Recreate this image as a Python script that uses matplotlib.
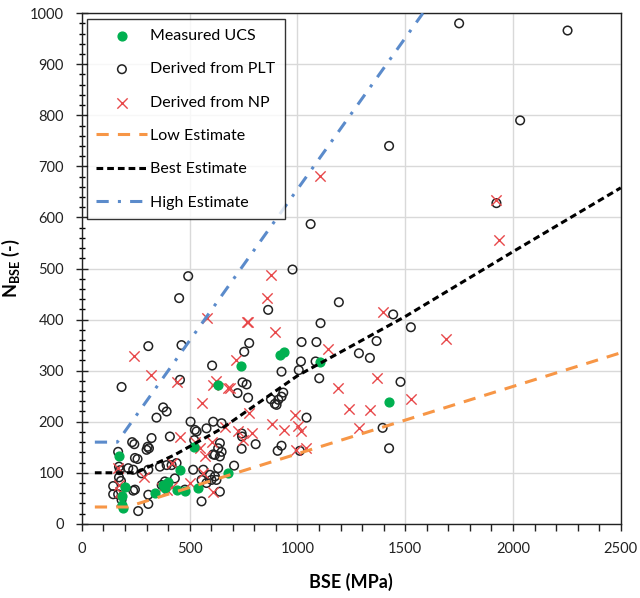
import matplotlib
matplotlib.use('Agg')
import matplotlib.pyplot as plt
from matplotlib.ticker import MultipleLocator

plt.rcParams['font.family'] = ['Lato', 'DejaVu Sans']
plt.rcParams['mathtext.fontset'] = 'custom'
plt.rcParams['mathtext.rm'] = 'Lato'
plt.rcParams['mathtext.bf'] = 'Lato:bold'

# measured UCS (green dots)
ucs_bse = [172, 199, 184, 184, 192, 339, 377, 385, 400, 439, 455, 478, 521, 540,
           629, 679, 738, 918, 938, 1104, 1425]
ucs_n = [132, 73, 55, 37, 31, 60, 76, 70, 81, 67, 106, 65, 151, 70,
         272, 100, 310, 331, 336, 316, 238]

# derived from PLT (open circles)
plt_bse = [1750, 2253, 2033, 1425, 1923, 1061, 493, 977, 451, 864, 1192, 1107, 1444,
           1526, 1367, 1285, 1336, 776, 1019, 1088, 753, 308, 462, 604, 1016, 1084,
           1006, 926, 1101, 455, 184, 745, 764, 1478, 722, 771, 934, 926, 911, 895,
           877, 377, 393, 346, 903, 1042, 504, 609, 648, 1395, 524, 532, 578, 741,
           743, 323, 408, 233, 243, 305, 311, 300, 521, 632, 640, 609, 741, 806,
           908, 926, 1011, 1425, 168, 172, 176, 172, 181, 145, 145, 168, 184, 246,
           258, 215, 238, 277, 308, 246, 308, 261, 308, 362, 393, 385, 370, 416,
           439, 431, 478, 516, 563, 594, 555, 578, 601, 624, 632, 640, 555, 706,
           640, 648, 617, 617, 238]
plt_n = [980, 966, 790, 740, 628, 587, 485, 498, 442, 419, 434, 393, 410,
         385, 358, 334, 325, 354, 356, 356, 337, 348, 350, 310, 318, 318,
         301, 298, 285, 282, 268, 277, 273, 278, 256, 247, 257, 249, 243, 235,
         244, 228, 220, 208, 233, 208, 200, 200, 197, 188, 184, 181, 187, 177,
         171, 168, 171, 160, 156, 151, 148, 145, 164, 148, 132, 136, 147, 156,
         143, 153, 143, 148, 141, 112, 105, 91, 84, 74, 58, 58, 47, 129,
         127, 109, 106, 99, 106, 67, 57, 25, 39, 112, 115, 83, 76, 115,
         119, 89, 67, 106, 106, 96, 86, 80, 86, 86, 109, 63, 44, 114,
         158, 141, 135, 93, 65]

# derived from NP (red crosses)
np_bse = [1104, 875, 857, 581, 764, 771, 1395, 1934, 1920, 895, 1691, 1142, 243, 717,
          320, 620, 609, 679, 686, 1189, 439, 1367, 1526, 555, 1238, 1336, 988, 775,
          663, 880, 938, 1003, 1016, 725, 787, 748, 1285, 991, 1038, 455, 524, 547,
          602, 571, 168, 289, 172, 176, 181, 370, 393, 416, 501, 609, 416, 564]
np_n = [681, 487, 442, 404, 396, 396, 414, 556, 634, 376, 362, 342, 329, 321,
        292, 280, 272, 266, 266, 266, 277, 285, 244, 237, 225, 223, 213, 217,
        190, 195, 184, 192, 181, 181, 177, 164, 188, 145, 149, 171, 161, 148,
        161, 132, 109, 91, 76, 62, 44, 70, 67, 73, 80, 62, 119, 100]

# estimate curves (vertices)
low_bse = [60, 210, 2500]
low_n = [33, 33, 335]
best_bse = [60, 250, 430, 650, 1000, 1500, 2000, 2500]
best_n = [100, 100, 135, 187, 290, 406, 533, 658]
high_bse = [60, 164, 1582]
high_n = [160, 160, 1000]

fig = plt.figure(figsize=(6.4, 5.98), dpi=100)
ax = fig.add_axes([0.128, 0.124, 0.842, 0.854])

ax.scatter(ucs_bse, ucs_n, s=40, color='#00B050', zorder=4, label='Measured UCS')
ax.scatter(plt_bse, plt_n, s=38, facecolors='none', edgecolors='#222222',
           linewidths=1.1, zorder=3, label='Derived from PLT')
ax.scatter(np_bse, np_n, s=55, marker='x', color='#E8484A', linewidths=1.0,
           zorder=3, label='Derived from NP')
ax.plot(low_bse, low_n, color='#F79646', lw=2.2, dashes=(4, 3), label='Low Estimate', zorder=5)
ax.plot(best_bse, best_n, color='black', lw=2.2, dashes=(2.2, 1.3), label='Best Estimate', zorder=5)
ax.plot(high_bse, high_n, color='#5B8BCB', lw=2.2, dashes=(4, 3, 1, 3), label='High Estimate', zorder=5)

ax.set_xlim(0, 2500)
ax.set_ylim(0, 1000)
ax.xaxis.set_major_locator(MultipleLocator(500))
ax.xaxis.set_minor_locator(MultipleLocator(100))
ax.yaxis.set_major_locator(MultipleLocator(100))
ax.yaxis.set_minor_locator(MultipleLocator(20))
ax.grid(True, which='major', color='#D9D9D9', lw=1.0, zorder=0)
ax.set_axisbelow(True)
ax.tick_params(axis='x', which='both', direction='out', length=5, width=1,
               labelsize=10.5, colors='#222222', pad=8)
ax.tick_params(axis='y', which='major', direction='inout', length=8, width=1,
               labelsize=10.5, colors='#222222', pad=9)
ax.tick_params(axis='y', which='minor', direction='inout', length=5, width=1)
for sp in ax.spines.values():
    sp.set_color('#222222')
    sp.set_linewidth(1.0)

ax.set_xlabel('BSE (MPa)', fontsize=13, fontweight='bold', labelpad=12)
ax.set_ylabel(r'$\mathbf{N_{BSE}}$ (-)', fontsize=13, fontweight='bold', labelpad=6)

leg = ax.legend(loc='upper left', bbox_to_anchor=(0.009, 0.988), borderaxespad=0,
                fontsize=11.5, frameon=True, fancybox=False, edgecolor='black',
                handlelength=3.2, labelspacing=1.2, borderpad=0.6, handletextpad=0.15)
leg.get_frame().set_linewidth(1.0)
leg.set_zorder(10)

fig.savefig('out.png', dpi=100)
